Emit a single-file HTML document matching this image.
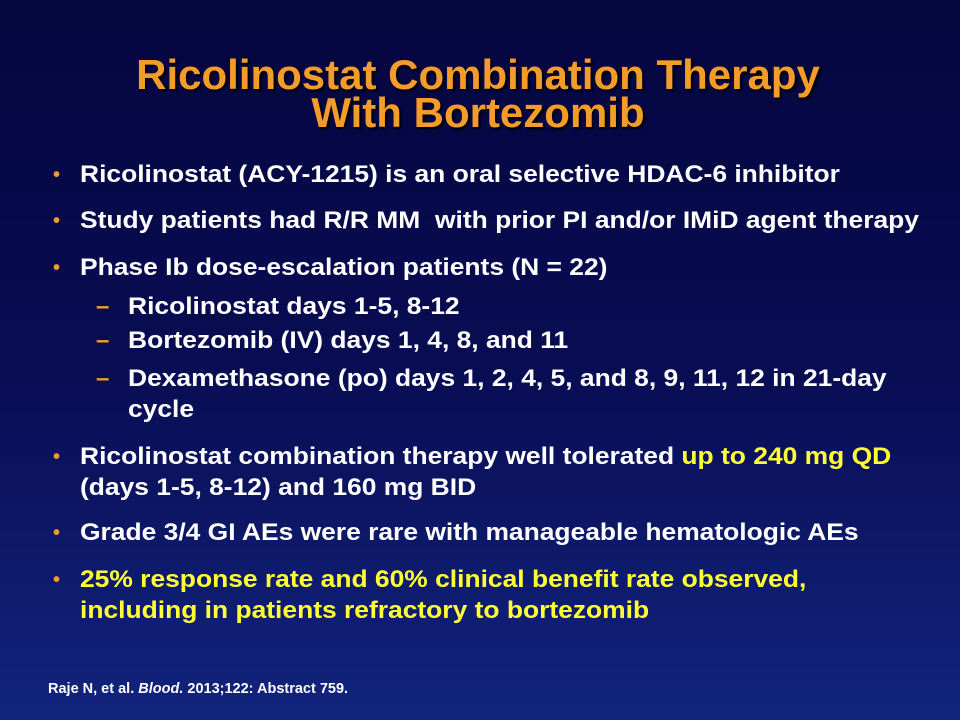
<!DOCTYPE html>
<html><head><meta charset="utf-8"><style>
html,body{margin:0;padding:0}
body{width:960px;height:720px;overflow:hidden;position:relative;font-family:"Liberation Sans",Arial,sans-serif;font-weight:bold;
background:linear-gradient(180deg,#05063f 0%,#080c52 50%,#12247e 100%);}
.t{position:absolute;left:0;width:956px;text-align:center;color:#f39c2a;font-size:42px;text-shadow:2px 2px 2px #000;line-height:40px}
.l{position:absolute;color:#fff;font-size:24px;line-height:28px;white-space:nowrap;transform:scaleX(1.1);transform-origin:left center}
.b{position:absolute;color:#f39c2a;font-size:20px;line-height:28px}
.d{position:absolute;color:#f39c2a;font-size:24px;line-height:28px}
.y{color:#ffff33}
.f{position:absolute;left:48px;top:681px;color:#fff;font-size:14.5px;line-height:17px}
</style></head><body>
<div class="t" style="top:55px">Ricolinostat Combination Therapy</div>
<div class="t" style="top:93px">With Bortezomib</div>

<div class="b" style="left:53px;top:161px">•</div>
<div class="l" style="left:80px;top:161px">Ricolinostat (ACY-1215) is an oral selective HDAC-6 inhibitor</div>
<div class="b" style="left:53px;top:207px">•</div>
<div class="l" style="left:80px;top:207px">Study patients had R/R MM&nbsp; with prior PI and/or IMiD agent therapy</div>
<div class="b" style="left:53px;top:254px">•</div>
<div class="l" style="left:80px;top:254px">Phase Ib dose-escalation patients (N = 22)</div>
<div class="d" style="left:96px;top:293px">–</div>
<div class="l" style="left:128px;top:293px">Ricolinostat days 1-5, 8-12</div>
<div class="d" style="left:96px;top:327px">–</div>
<div class="l" style="left:128px;top:327px">Bortezomib (IV) days 1, 4, 8, and 11</div>
<div class="d" style="left:96px;top:365px">–</div>
<div class="l" style="left:128px;top:365px">Dexamethasone (po) days 1, 2, 4, 5, and 8, 9, 11, 12 in 21-day</div>
<div class="l" style="left:128px;top:396px">cycle</div>
<div class="b" style="left:53px;top:443px">•</div>
<div class="l" style="left:80px;top:443px">Ricolinostat combination therapy well tolerated <span class="y">up to 240 mg QD</span></div>
<div class="l" style="left:80px;top:474px">(days 1-5, 8-12) and 160 mg BID</div>
<div class="b" style="left:53px;top:519px">•</div>
<div class="l" style="left:80px;top:519px">Grade 3/4 GI AEs were rare with manageable hematologic AEs</div>
<div class="b" style="left:53px;top:566px">•</div>
<div class="l y" style="left:80px;top:566px">25% response rate and 60% clinical benefit rate observed,</div>
<div class="l y" style="left:80px;top:597px">including in patients refractory to bortezomib</div>

<div class="f">Raje N, et al. <i>Blood.</i> 2013;122: Abstract 759.</div>
</body></html>
